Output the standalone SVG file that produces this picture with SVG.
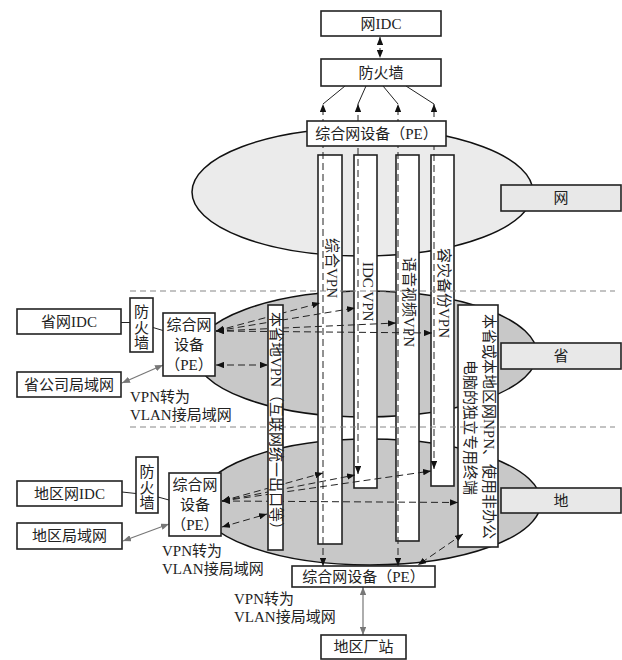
<svg xmlns="http://www.w3.org/2000/svg" width="622" height="660" viewBox="0 0 622 660">
<defs>
<style>
text{font-family:"Liberation Serif","Noto Sans CJK SC",serif;font-size:15px;fill:#222}
.c{text-anchor:middle;dominant-baseline:central}
.v{dominant-baseline:central}
.box{fill:#fff;stroke:#222;stroke-width:1.6}
.lab{fill:#e8e8e8;stroke:#222;stroke-width:1.6}
.bar{fill:#fff;stroke:#222;stroke-width:1.6}
.dl{fill:none;stroke:#222;stroke-width:1;stroke-dasharray:7,4}
.sl{fill:none;stroke:#222;stroke-width:1}
.gl{fill:none;stroke:#777;stroke-width:1.2}
.sep{fill:none;stroke:#888;stroke-width:1.2;stroke-dasharray:6,4}
</style>
<marker id="ah" viewBox="0 0 10 8" refX="10" refY="4" markerWidth="8" markerHeight="6.4" markerUnits="userSpaceOnUse" orient="auto-start-reverse"><path d="M0,0 L10,4 L0,8 z" fill="#111"/></marker>
<marker id="ag" viewBox="0 0 10 8" refX="10" refY="4" markerWidth="8" markerHeight="6.4" markerUnits="userSpaceOnUse" orient="auto-start-reverse"><path d="M0,0 L10,4 L0,8 z" fill="#777"/></marker>
</defs>

<g id="zone-wang"><ellipse cx="362.5" cy="192" rx="170.5" ry="64" fill="#ebebeb" stroke="#111" stroke-width="1.5"/></g>
<g id="zone-sheng"><ellipse cx="366" cy="354" rx="171" ry="63" fill="#c8c8c8" stroke="#111" stroke-width="1.5"/></g>
<g id="zone-di"><ellipse cx="370" cy="502" rx="171" ry="63" fill="#c8c8c8" stroke="#111" stroke-width="1.5"/></g>

<g id="bar-zonghe"><rect class="bar" x="318" y="155" width="24" height="389"/><text class="v" transform="translate(332,238) rotate(90)">综合VPN</text></g>
<g id="bar-idc"><rect class="bar" x="354" y="155" width="23" height="333"/><text class="v" transform="translate(368,262) rotate(90)">IDC VPN</text></g>
<g id="bar-voice"><rect class="bar" x="396" y="155" width="23" height="386"/><text class="v" transform="translate(409,257) rotate(90)">语音视频VPN</text></g>
<g id="bar-backup"><rect class="bar" x="431" y="155" width="23" height="331"/><text class="v" transform="translate(444,248) rotate(90)">容灾备份VPN</text></g>
<g id="bar-local"><rect class="bar" x="458" y="305" width="40" height="242"/><text class="c" transform="translate(488.5,426.5) rotate(90)">本省或本地区网NPN、使用非办公</text><text class="c" transform="translate(470,427.5) rotate(90)">电脑的独立专用终端</text></g>

<g id="connectors">
<path class="dl" d="M380,37 L380,58" marker-start="url(#ah)" marker-end="url(#ah)"/>
<path class="sl" d="M345,86 L323,104"/>
<path class="sl" d="M366,86 L358,104"/>
<path class="sl" d="M383,86 L398,104"/>
<path class="sl" d="M406,86 L434,104"/>
<path class="dl" d="M323,566 L323,104" marker-start="url(#ah)" marker-end="url(#ah)"/>
<path class="dl" d="M358,474 L358,104" marker-start="url(#ah)" marker-end="url(#ah)"/>
<path class="dl" d="M398,566 L398,104" marker-start="url(#ah)" marker-end="url(#ah)"/>
<path class="dl" d="M434,469 L434,104" marker-start="url(#ah)" marker-end="url(#ah)"/>
<path class="dl" d="M216,331 L320,303" marker-start="url(#ah)" marker-end="url(#ah)"/>
<path class="dl" d="M216,331 L355,308" marker-start="url(#ah)" marker-end="url(#ah)"/>
<path class="dl" d="M216,331 L396,323" marker-start="url(#ah)" marker-end="url(#ah)"/>
<path class="dl" d="M216,331 L432,333" marker-start="url(#ah)" marker-end="url(#ah)"/>
<path class="dl" d="M216,365 L268,365" marker-start="url(#ah)" marker-end="url(#ah)"/>
<path class="sl" d="M121,322.5 L130,322.5"/>
<path class="sl" d="M153,327.5 L163,330.5"/>
<path class="gl" d="M122,383 L163,365" marker-start="url(#ag)" marker-end="url(#ag)"/>
<path class="dl" d="M222,501 L323,473" marker-start="url(#ah)" marker-end="url(#ah)"/>
<path class="dl" d="M222,501 L355,475" marker-start="url(#ah)" marker-end="url(#ah)"/>
<path class="dl" d="M222,501 L431,471" marker-start="url(#ah)" marker-end="url(#ah)"/>
<path class="dl" d="M222,501 L458,502.5" marker-start="url(#ah)" marker-end="url(#ah)"/>
<path class="dl" d="M222,527 L267,514" marker-start="url(#ah)" marker-end="url(#ah)"/>
<path class="sl" d="M122,492 L136,493.5"/>
<path class="sl" d="M158,497 L169,500"/>
<path class="gl" d="M123,541 L169,524" marker-start="url(#ag)" marker-end="url(#ag)"/>
<path class="dl" d="M463,534 L418,565" marker-start="url(#ah)" marker-end="url(#ah)"/>
<path class="gl" d="M363,587 L363,635" marker-start="url(#ag)" marker-end="url(#ag)"/>
<path class="sep" d="M130,291 L615,291"/>
<path class="sep" d="M130,427 L615,427"/>
</g>

<g id="bar-provincial"><rect class="bar" x="268" y="305" width="15" height="245"/><text class="v" transform="translate(276,312) rotate(90)">本省地VPN（互联网统一出口等）</text></g>

<g id="net-idc"><rect class="box" x="321" y="11" width="120" height="25"/><text class="c" x="381" y="23.5">网IDC</text></g>
<g id="firewall-top"><rect class="box" x="321" y="59" width="120" height="27"/><text class="c" x="381" y="72.5">防火墙</text></g>
<g id="pe-top"><rect class="box" x="307" y="121" width="139" height="25"/><text class="c" x="376.5" y="133.5">综合网设备（PE）</text></g>

<g id="label-wang"><rect class="lab" x="501" y="185" width="120" height="26"/><text class="c" x="561" y="198">网</text></g>
<g id="label-sheng"><rect class="lab" x="501" y="343" width="120" height="26"/><text class="c" x="561" y="356">省</text></g>
<g id="label-di"><rect class="lab" x="501" y="488" width="120" height="25"/><text class="c" x="561" y="500.5">地</text></g>

<g id="sheng-idc"><rect class="box" x="17" y="309" width="104" height="25"/><text class="c" x="69" y="321.5">省网IDC</text></g>
<g id="sheng-lan"><rect class="box" x="17" y="372" width="104" height="25"/><text class="c" x="69" y="384.5">省公司局域网</text></g>
<g id="sheng-fw"><rect class="box" x="130" y="298" width="23" height="54"/><text class="c" x="141.5" y="312">防</text><text class="c" x="141.5" y="327.5">火</text><text class="c" x="141.5" y="343">墙</text></g>
<g id="sheng-pe"><rect class="box" x="163" y="313" width="52" height="63"/><text class="c" x="189" y="325">综合网</text><text class="c" x="189" y="345">设备</text><text class="c" x="189" y="365">（PE）</text></g>
<g id="sheng-note"><text x="130" y="402">VPN转为</text><text x="130" y="420">VLAN接局域网</text></g>

<g id="di-idc"><rect class="box" x="17" y="481" width="105" height="25"/><text class="c" x="69.5" y="493.5">地区网IDC</text></g>
<g id="di-lan"><rect class="box" x="17" y="523" width="105" height="26"/><text class="c" x="69.5" y="536">地区局域网</text></g>
<g id="di-fw"><rect class="box" x="136" y="457" width="22" height="56"/><text class="c" x="147" y="472">防</text><text class="c" x="147" y="488">火</text><text class="c" x="147" y="503">墙</text></g>
<g id="di-pe"><rect class="box" x="169" y="473" width="52" height="63"/><text class="c" x="195" y="485">综合网</text><text class="c" x="195" y="505">设备</text><text class="c" x="195" y="525">（PE）</text></g>
<g id="di-note"><text x="162" y="556">VPN转为</text><text x="162" y="574">VLAN接局域网</text></g>

<g id="pe-bottom"><rect class="box" x="292" y="566" width="143" height="21"/><text class="c" x="363.5" y="576.5">综合网设备（PE）</text></g>
<g id="bottom-note"><text x="234" y="604">VPN转为</text><text x="234" y="622">VLAN接局域网</text></g>
<g id="station"><rect class="box" x="321" y="635" width="85" height="24"/><text class="c" x="363.5" y="647">地区厂站</text></g>
</svg>
